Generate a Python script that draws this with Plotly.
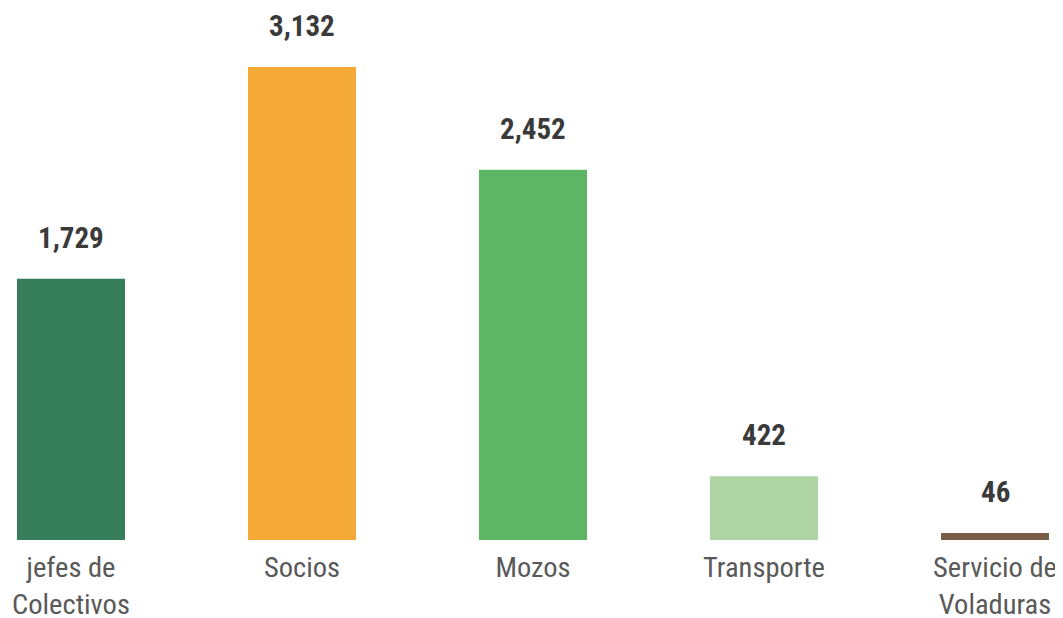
import plotly.graph_objects as go

categories = ["jefes de<br>Colectivos", "Socios", "Mozos", "Transporte", "Servicio de<br>Voladuras"]
values = [1729, 3132, 2452, 422, 46]
colors = ["#367E5A", "#F5A936", "#5DB663", "#AED4A4", "#7A5E4A"]

FONT = "Roboto Condensed, Liberation Sans Narrow, Arial Narrow, Roboto, sans-serif"

# The page body has an 8px default margin; the figure is sized to fill the rest.
W, H = 1055, 610
STEP = 231.0          # px per category
FIRST = 71 - 8        # px centre of first category inside the figure

fig = go.Figure()
fig.add_trace(go.Bar(
    x=list(range(len(categories))), y=values,
    marker=dict(color=colors, line=dict(width=0)),
    width=108 / STEP,
    hoverinfo="skip",
))

for i, v in enumerate(values):
    fig.add_annotation(
        x=i, y=v, text=f"<b>{v:,}</b>", showarrow=False,
        yanchor="bottom", yshift=22,
        font=dict(family=FONT, size=29, color="#3A3A3A"),
    )

fig.update_layout(
    width=W, height=H,
    margin=dict(l=0, r=0, t=12, b=78, autoexpand=False),
    paper_bgcolor="white", plot_bgcolor="white",
    showlegend=False,
    font=dict(family=FONT),
    xaxis=dict(
        range=[-FIRST / STEP, (W - FIRST) / STEP],
        tickmode="array", tickvals=list(range(len(categories))), ticktext=categories,
        tickfont=dict(family=FONT, size=28.5, color="#595959"),
        ticklabelstandoff=7,
        showgrid=False, zeroline=False, showline=False, ticks="",
        automargin=False,
    ),
    yaxis=dict(range=[0, 3443], visible=False, showgrid=False, zeroline=False, automargin=False),
)

fig.write_html("out.html")
